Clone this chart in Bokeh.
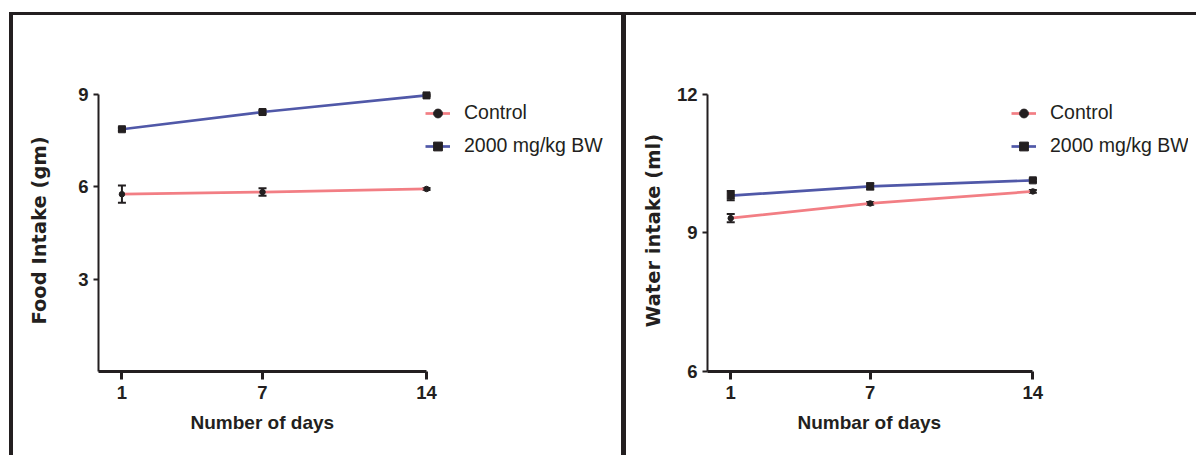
from bokeh.plotting import figure
from bokeh.layouts import row, column
from bokeh.models import (ColumnDataSource, Legend, LegendItem, FixedTicker, Range1d,
                          Whisker, TeeHead, Div, Title)
from bokeh.embed import file_html
from bokeh.resources import INLINE

# ---------------- data ----------------
days = [1, 7, 14]
day_ticks = [1, 7, 14]

food_control = [5.76, 5.83, 5.93]
food_control_err = [0.28, 0.12, 0.03]
food_2000 = [7.87, 8.43, 8.97]
food_2000_err = [0.05, 0.05, 0.03]

water_control = [9.32, 9.64, 9.90]
water_control_err = [0.09, 0.03, 0.03]
water_2000 = [9.81, 10.01, 10.14]
water_2000_err = [0.10, 0.07, 0.03]

food_yticks = [3, 6, 9]
water_yticks = [6, 9, 12]
series_names = ["Control", "2000 mg/kg BW"]

INK = "#231f20"
C_CTRL = "#f27e84"
C_HIGH = "#5058a8"
FONT = "Liberation Sans"
FIG_H = 440
TOP = 74
FRAME_H = 282


def make_panel(width, left, frame_w, x_end, y_start, y_end, yticks, ybounds,
               ctrl, ctrl_err, high, high_err, xlabel, xlabel_offset,
               ylabel, y_title_standoff, legend_loc):
    p = figure(width=width, height=FIG_H, output_backend="svg", toolbar_location=None,
               x_range=Range1d(0, x_end), y_range=Range1d(y_start, y_end),
               min_border_left=left, min_border_right=width - left - frame_w,
               min_border_top=TOP, min_border_bottom=FIG_H - TOP - FRAME_H,
               background_fill_color="white", border_fill_color="white")
    p.outline_line_color = None
    p.grid.visible = False

    # x axis (line only up to day 14)
    p.xaxis.ticker = FixedTicker(ticks=day_ticks)
    p.xaxis.bounds = (0, 14)
    p.xaxis.axis_line_width = 3
    p.xaxis.axis_line_color = INK
    p.xaxis.major_tick_line_width = 3
    p.xaxis.major_tick_line_color = INK
    p.xaxis.major_tick_out = 8
    p.xaxis.major_tick_in = 0
    p.xaxis.minor_tick_line_color = None
    p.xaxis.major_label_standoff = 6
    p.xaxis.major_label_text_font = FONT
    p.xaxis.major_label_text_font_style = "bold"
    p.xaxis.major_label_text_font_size = "18.5px"
    p.xaxis.major_label_text_color = INK
    p.add_layout(Title(text=xlabel, align="left", offset=xlabel_offset, standoff=17,
                       text_font=FONT, text_font_style="bold", text_font_size="19px",
                       text_color=INK), "below")

    # y axis
    p.yaxis.ticker = FixedTicker(ticks=yticks)
    p.yaxis.bounds = ybounds
    p.yaxis.axis_line_width = 2
    p.yaxis.axis_line_color = INK
    p.yaxis.major_tick_line_width = 2
    p.yaxis.major_tick_line_color = INK
    p.yaxis.major_tick_out = 5
    p.yaxis.major_tick_in = 0
    p.yaxis.minor_tick_line_color = None
    p.yaxis.major_label_standoff = 5
    p.yaxis.major_label_text_font = FONT
    p.yaxis.major_label_text_font_style = "bold"
    p.yaxis.major_label_text_font_size = "18.5px"
    p.yaxis.major_label_text_color = INK
    p.yaxis.axis_label = ylabel
    p.yaxis.axis_label_text_font = "DejaVu Sans"
    p.yaxis.axis_label_text_font_style = "bold"
    p.yaxis.axis_label_text_font_size = "19.5px"
    p.yaxis.axis_label_text_color = INK
    p.yaxis.axis_label_standoff = y_title_standoff

    # series
    src_c = ColumnDataSource(dict(x=days, y=ctrl,
                                  lo=[v - e for v, e in zip(ctrl, ctrl_err)],
                                  hi=[v + e for v, e in zip(ctrl, ctrl_err)]))
    src_h = ColumnDataSource(dict(x=days, y=high,
                                  lo=[v - e for v, e in zip(high, high_err)],
                                  hi=[v + e for v, e in zip(high, high_err)]))

    l_c = p.line("x", "y", source=src_c, line_color=C_CTRL, line_width=2.7)
    l_h = p.line("x", "y", source=src_h, line_color=C_HIGH, line_width=2.7)
    for src in (src_c, src_h):
        w = Whisker(base="x", upper="hi", lower="lo", source=src,
                    line_color=INK, line_width=2,
                    upper_head=TeeHead(size=8, line_color=INK, line_width=2),
                    lower_head=TeeHead(size=8, line_color=INK, line_width=2))
        p.add_layout(w)
    m_c = p.scatter("x", "y", source=src_c, marker="circle", size=5.5,
                    fill_color=INK, line_color=INK)
    m_h = p.scatter("x", "y", source=src_h, marker="square", size=7,
                    fill_color=INK, line_color=INK)

    legend = Legend(items=[LegendItem(label=series_names[0], renderers=[l_c, m_c]),
                           LegendItem(label=series_names[1], renderers=[l_h, m_h])],
                    location=legend_loc, margin=0, padding=0, spacing=10,
                    glyph_width=25, glyph_height=22, label_height=22,
                    label_standoff=14, border_line_color=None,
                    background_fill_alpha=0,
                    label_text_font=FONT, label_text_font_size="19.5px",
                    label_text_color=INK)
    p.add_layout(legend, "center")
    return p


# left panel: y axis at x=98, 23.43 px/day; frame reaches the divider
p1 = make_panel(608, 85, 518, 518 / 23.43, 0, FRAME_H / 30.78, food_yticks, (0, 9),
                food_control, food_control_err, food_2000, food_2000_err,
                "Number of days", 92, "Food Intake (gm)", 24, (327, 214))
# right panel: y axis at x=707, 23.24 px/day
p2 = make_panel(570, 81, 481, 481 / 23.24, 6, 6 + FRAME_H / 46.17, water_yticks, (6, 12),
                water_control, water_control_err, water_2000, water_2000_err,
                "Numbar of days", 90, "Water intake (ml)", 9, (304, 214))


def bar(w, h, color):
    return Div(text="", width=w, height=h, margin=0,
               styles={"background-color": color})


layout = column(
    bar(1196, 12, "white"),
    row(bar(9, 3, "white"), bar(1187, 3, INK), spacing=0),
    row(bar(9, FIG_H, "white"), bar(4, FIG_H, INK), p1, bar(5, FIG_H, INK), p2,
        spacing=0),
    spacing=0,
)
open("out.html", "w").write(file_html(layout, INLINE))
